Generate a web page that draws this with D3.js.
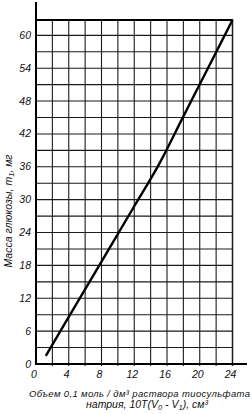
<!DOCTYPE html>
<html>
<head>
<meta charset="utf-8">
<script src="https://cdn.jsdelivr.net/npm/d3@7"></script>
<style>
  body { margin: 0; background: #fff; }
  text { font-family: "Liberation Sans", "DejaVu Sans", sans-serif; font-style: italic; fill: #111; }
</style>
</head>
<body>
<div id="chart"></div>
<script>
// data
var volume = [1.2, 4, 8, 12, 15, 18, 21, 24];
var glucose = [1.5, 8.6, 18.7, 28.8, 36.4, 45.2, 54, 62.8];
var xTicks = [0, 4, 8, 12, 16, 20, 24];
var yTicks = [0, 6, 12, 18, 24, 30, 36, 42, 48, 54, 60];
var xGrid = d3.range(0, 25, 2);
var yGrid = d3.range(0, 61, 3);

var svgWidth = 252;
var svgHeight = 414;

var svg = d3.select("#chart")
    .append("svg")
    .attr("width", svgWidth)
    .attr("height", svgHeight);

var xScale = d3.scaleLinear()
    .domain([0, 24])
    .range([36, 232.5]);
var yScale = d3.scaleLinear()
    .domain([0, 62.8])
    .range([364, 20]);

// grid
svg.append("g").selectAll("line")
    .data(xGrid.slice(1))
    .enter()
    .append("line")
    .attr("x1", d => xScale(d))
    .attr("x2", d => xScale(d))
    .attr("y1", yScale(62.8))
    .attr("y2", yScale(0) + 2)
    .attr("stroke", "#1a1a1a")
    .attr("stroke-width", d => d === 24 ? 1.5 : 1.1);

svg.append("g").selectAll("line")
    .data(yGrid.slice(1))
    .enter()
    .append("line")
    .attr("x1", xScale(0))
    .attr("x2", xScale(24))
    .attr("y1", d => yScale(d))
    .attr("y2", d => yScale(d))
    .attr("stroke", "#1a1a1a")
    .attr("stroke-width", 1.1);

// top border
svg.append("line")
    .attr("x1", xScale(0))
    .attr("x2", xScale(24) + 0.5)
    .attr("y1", yScale(62.8))
    .attr("y2", yScale(62.8))
    .attr("stroke", "#000")
    .attr("stroke-width", 2);

// axes
svg.append("line")
    .attr("x1", xScale(0))
    .attr("x2", xScale(0))
    .attr("y1", 2)
    .attr("y2", yScale(0) + 1)
    .attr("stroke", "#000")
    .attr("stroke-width", 2);
svg.append("line")
    .attr("x1", xScale(0) - 1)
    .attr("x2", 247)
    .attr("y1", yScale(0))
    .attr("y2", yScale(0))
    .attr("stroke", "#000")
    .attr("stroke-width", 2);

// tick labels
svg.append("g").selectAll("text")
    .data(yTicks)
    .enter()
    .append("text")
    .attr("x", 31)
    .attr("y", d => yScale(d) + 3.5)
    .attr("text-anchor", "end")
    .attr("font-size", 10.5)
    .text(d => d);

svg.append("g").selectAll("text")
    .data(xTicks)
    .enter()
    .append("text")
    .attr("x", d => xScale(d) - 2)
    .attr("y", 377.5)
    .attr("text-anchor", "middle")
    .attr("font-size", 10.5)
    .text(d => d);

// curve
var line = d3.line()
    .x((d, i) => xScale(volume[i]))
    .y(d => yScale(d))
    .curve(d3.curveMonotoneX);

svg.append("path")
    .datum(glucose)
    .attr("d", line)
    .attr("fill", "none")
    .attr("stroke", "#000")
    .attr("stroke-width", 2.4)
    .attr("stroke-linejoin", "round");

// axis titles
var yTitle = svg.append("text")
    .attr("transform", "translate(12, 211) rotate(-90)")
    .attr("text-anchor", "middle")
    .attr("font-size", 10.5);
yTitle.append("tspan").text("Масса глюкозы, m");
yTitle.append("tspan").attr("font-size", 7.5).attr("dy", 2).text("1");
yTitle.append("tspan").attr("dy", -2).text(", мг");

svg.append("text")
    .attr("x", 29)
    .attr("y", 397)
    .attr("font-size", 9.5)
    .attr("textLength", 221)
    .attr("lengthAdjust", "spacing")
    .text("Объем 0,1 моль / дм³ раствора тиосульфата");

var xTitle2 = svg.append("text")
    .attr("x", 147)
    .attr("y", 407.5)
    .attr("text-anchor", "middle")
    .attr("font-size", 10.5);
xTitle2.append("tspan").text("натрия, 10T(V");
xTitle2.append("tspan").attr("font-size", 7.5).attr("dy", 2).text("0");
xTitle2.append("tspan").attr("dy", -2).text(" - V");
xTitle2.append("tspan").attr("font-size", 7.5).attr("dy", 2).text("1");
xTitle2.append("tspan").attr("dy", -2).text("), см³");
</script>
</body>
</html>
